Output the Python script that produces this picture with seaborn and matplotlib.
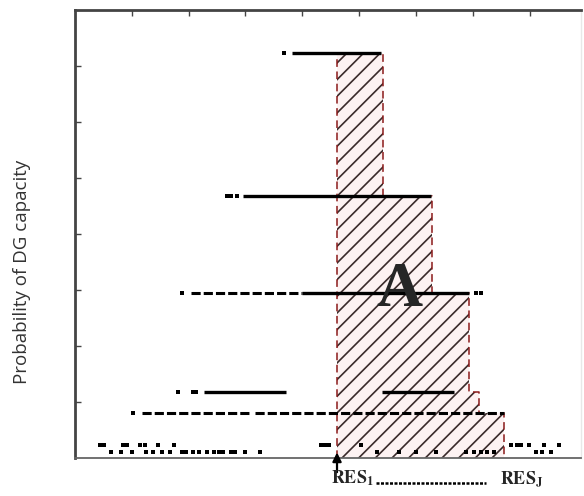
import numpy as np
import pandas as pd
import matplotlib
matplotlib.use('Agg')
import matplotlib.pyplot as plt
import seaborn as sns

# probability levels (y) and the right edges of the hatched step region
levels = [7.23, 4.68, 2.95, 1.18, 0.80]
step_edges = [4.61, 5.42, 6.28, 6.93, 7.10, 7.55]

# sampled capacities drawn as solid runs along each level
run_y = [7.23, 4.68, 2.95, 1.18, 1.18]
run_x0 = [3.81, 2.95, 4.00, 2.28, 5.40]
run_x1 = [5.39, 6.26, 6.93, 3.72, 6.67]

# denser dashed runs
dash_y = [2.95, 0.80, 0.80]
dash_x0 = [2.05, 1.19, 3.16]
dash_x1 = [4.00, 3.07, 7.54]

# isolated samples
dot_x = [3.68,
         2.67, 2.75, 2.86,
         1.89, 7.05, 7.14,
         1.82, 2.07, 2.14,
         1.02,
         0.44, 0.51, 0.84, 0.91, 1.14, 1.23, 1.47, 1.75, 4.32, 4.40, 4.47,
         5.04, 7.67, 7.77, 7.84, 7.98, 8.25, 8.51,
         0.63, 0.81, 1.00, 1.25, 1.37, 1.53, 1.67, 1.89, 1.96, 2.07, 2.19,
         2.33, 2.44, 2.53, 2.61, 2.74, 2.82, 3.00, 3.26, 5.32, 5.70, 6.00,
         6.35, 6.88, 7.02, 7.14, 7.25, 7.37, 8.11, 8.21, 8.37]
dot_y = [7.23,
         4.68, 4.68, 4.68,
         2.95, 2.95, 2.95,
         1.18, 1.18, 1.18,
         0.80] + [0.22] * 18 + [0.10] * 31

dots = pd.DataFrame({'x': dot_x, 'y': dot_y})

sns.set_style('white')
plt.rcParams['hatch.linewidth'] = 1.2
plt.rcParams['mathtext.fontset'] = 'stix'

fig = plt.figure(figsize=(5.84, 4.96), dpi=100)
ax = fig.add_axes([0.128, 0.077, 0.867, 0.903])

# hatched region
fill_y = levels + [levels[-1]]
ax.fill_between(step_edges, fill_y, step='post', facecolor='#fdf2f2',
                edgecolor='#3a2a2a', hatch='//', linewidth=0, zorder=1)
ox = np.repeat(step_edges, 2)
oy = np.concatenate([[0], np.repeat(levels, 2), [0]])
ax.plot(ox, oy, color='#8b1a1a', lw=1.1, ls=(0, (5, 3)), zorder=2)

# sample rows
ax.hlines(run_y, run_x0, run_x1, color='black', lw=2.4, zorder=3)
ax.hlines(dash_y, dash_x0, dash_x1, color='black', lw=2.2,
          linestyles=[(0, (3, 1))], zorder=3)
sns.scatterplot(data=dots, x='x', y='y', marker='s', s=5, color='black',
                linewidth=0, ax=ax, zorder=3)

ax.text(5.70, 2.98, 'A', fontsize=46, fontweight='bold',
        family='Liberation Serif', ha='center', va='center', zorder=4)

ax.set_xlim(0, 8.9)
ax.set_ylim(0, 8)
ax.set_xticks(np.arange(1, 9))
ax.set_yticks(np.arange(1, 8))
ax.tick_params(axis='both', which='both', direction='in', length=4,
               width=1, color='#444', labelleft=False, labelbottom=False,
               top=True, bottom=False, left=True, right=False)
ax.set_xlabel('')
ax.set_ylabel('')
for side in ['top', 'left']:
    ax.spines[side].set_color('#444')
    ax.spines[side].set_linewidth(2)
ax.spines['bottom'].set_color('#666')
ax.spines['bottom'].set_linewidth(1.3)
ax.spines['right'].set_color('#e8e8e8')
ax.spines['right'].set_linewidth(1)

# RES labels under the axis
trans = ax.get_xaxis_transform()
ax.annotate('', xy=(step_edges[0], 0.012), xytext=(step_edges[0], -0.032),
            xycoords=trans, textcoords=trans,
            arrowprops=dict(arrowstyle='-|>', color='black', lw=1.6,
                            mutation_scale=13, shrinkA=0, shrinkB=0))
ax.text(4.88, -0.058, r'$\mathbf{RES_1}$', transform=trans, fontsize=13,
        ha='center', va='baseline')
ax.text(7.86, -0.058, r'$\mathbf{RES_J}$', transform=trans, fontsize=13,
        ha='center', va='baseline')
ax.plot([5.30, 7.22], [-0.056, -0.056], transform=trans, color='black',
        lw=1.8, ls=(0, (1.2, 0.6)), clip_on=False)

fig.text(0.038, 0.452, 'Probability of DG capacity', rotation=90,
         fontsize=13.5, family='Open Sans', color='#333', ha='center',
         va='center')

fig.savefig('out.png', dpi=100)
